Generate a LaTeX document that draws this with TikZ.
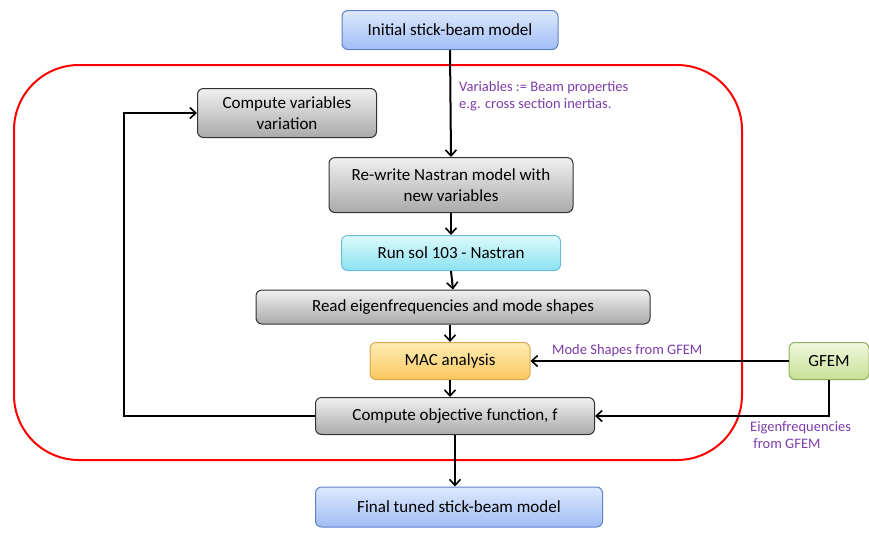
\documentclass[tikz,border=0pt]{standalone}
\usepackage{fontspec}
\setmainfont{Carlito}
\usetikzlibrary{arrows.meta}

\definecolor{blueTop}{RGB}{221,233,253}
\definecolor{blueBot}{RGB}{160,189,245}
\definecolor{blueLine}{RGB}{95,130,200}
\definecolor{greyTop}{RGB}{240,240,240}
\definecolor{greyBot}{RGB}{170,170,170}
\definecolor{cyanTop}{RGB}{220,250,253}
\definecolor{cyanBot}{RGB}{140,225,242}
\definecolor{cyanLine}{RGB}{110,190,215}
\definecolor{orangeTop}{RGB}{254,235,180}
\definecolor{orangeBot}{RGB}{250,200,95}
\definecolor{orangeLine}{RGB}{215,170,80}
\definecolor{greenTop}{RGB}{240,247,222}
\definecolor{greenBot}{RGB}{200,224,150}
\definecolor{greenLine}{RGB}{140,175,90}
\definecolor{noteText}{RGB}{125,60,170}

\tikzset{
  box/.style={rounded corners=6pt, line width=1pt, align=center,
    font=\fontsize{17}{21}\selectfont, inner sep=2pt},
  bluebox/.style={box, draw=blueLine, top color=blueTop, bottom color=blueBot},
  greybox/.style={box, draw=black!80, top color=greyTop, bottom color=greyBot},
  cyanbox/.style={box, draw=cyanLine, top color=cyanTop, bottom color=cyanBot},
  orangebox/.style={box, draw=orangeLine, top color=orangeTop, bottom color=orangeBot},
  greenbox/.style={box, draw=greenLine, top color=greenTop, bottom color=greenBot},
  flow/.style={line width=2pt, -{Straight Barb[length=6pt,width=11pt,line width=1.6pt]}},
  note/.style={text=noteText, font=\fontsize{14.5}{17}\selectfont, align=left, inner sep=1pt}
}

\begin{document}
\begin{tikzpicture}[x=1pt,y=-1pt]
\useasboundingbox (0,0) rectangle (869,542);
% loop frame
\draw[red, line width=2pt, rounded corners=65pt] (14,65) rectangle (742,460);
% blocks
\node[bluebox, minimum width=216pt, minimum height=39pt] (init) at (450,30) {Initial stick-beam model};
\node[greybox, minimum width=179pt, minimum height=49pt] (vari) at (287,113) {Compute variables\\variation};
\node[greybox, minimum width=244pt, minimum height=55pt] (rewrite) at (451,185) {Re-write Nastran model with\\new variables};
\node[cyanbox, minimum width=219pt, minimum height=35pt] (run) at (451,253) {Run sol 103 - Nastran};
\node[greybox, minimum width=394pt, minimum height=34pt] (read) at (453,307) {Read eigenfrequencies and mode shapes};
\node[orangebox, minimum width=160pt, minimum height=37pt] (mac) at (450,361) {MAC analysis};
\node[greenbox, minimum width=80pt, minimum height=37pt] (gfem) at (829,361) {GFEM};
\node[greybox, minimum width=279pt, minimum height=37pt] (obj) at (455,416) {Compute objective function, f};
\node[bluebox, minimum width=287pt, minimum height=40pt] (final) at (459,507) {Final tuned stick-beam model};
% connectors
\draw[flow] (init.south) -- (rewrite.north);
\draw[flow] (rewrite.south) -- (run.north);
\draw[flow] (run.south) -- (read.north);
\draw[flow] (read.south -| mac.north) -- (mac.north);
\draw[flow] (mac.south) -- (mac.south |- obj.north);
\draw[flow] (obj.south) -- (obj.south |- final.north);
\draw[flow] (obj.west) -- (124,416) -- (124,113) -- (vari.west);
\draw[flow] (gfem.west) -- (mac.east);
\draw[flow] (gfem.south) -- (gfem.south |- obj.east) -- (obj.east);
% labels
\node[note, anchor=north west] (varnote) at (458,80) {Variables := Beam properties\\e.g. cross section inertias.};
\node[note, anchor=south west] (modenote) at (551,358) {Mode Shapes from GFEM};
\node[note, anchor=north west] (eignote) at (749,420) {Eigenfrequencies\\\ from GFEM};
\end{tikzpicture}
\end{document}
